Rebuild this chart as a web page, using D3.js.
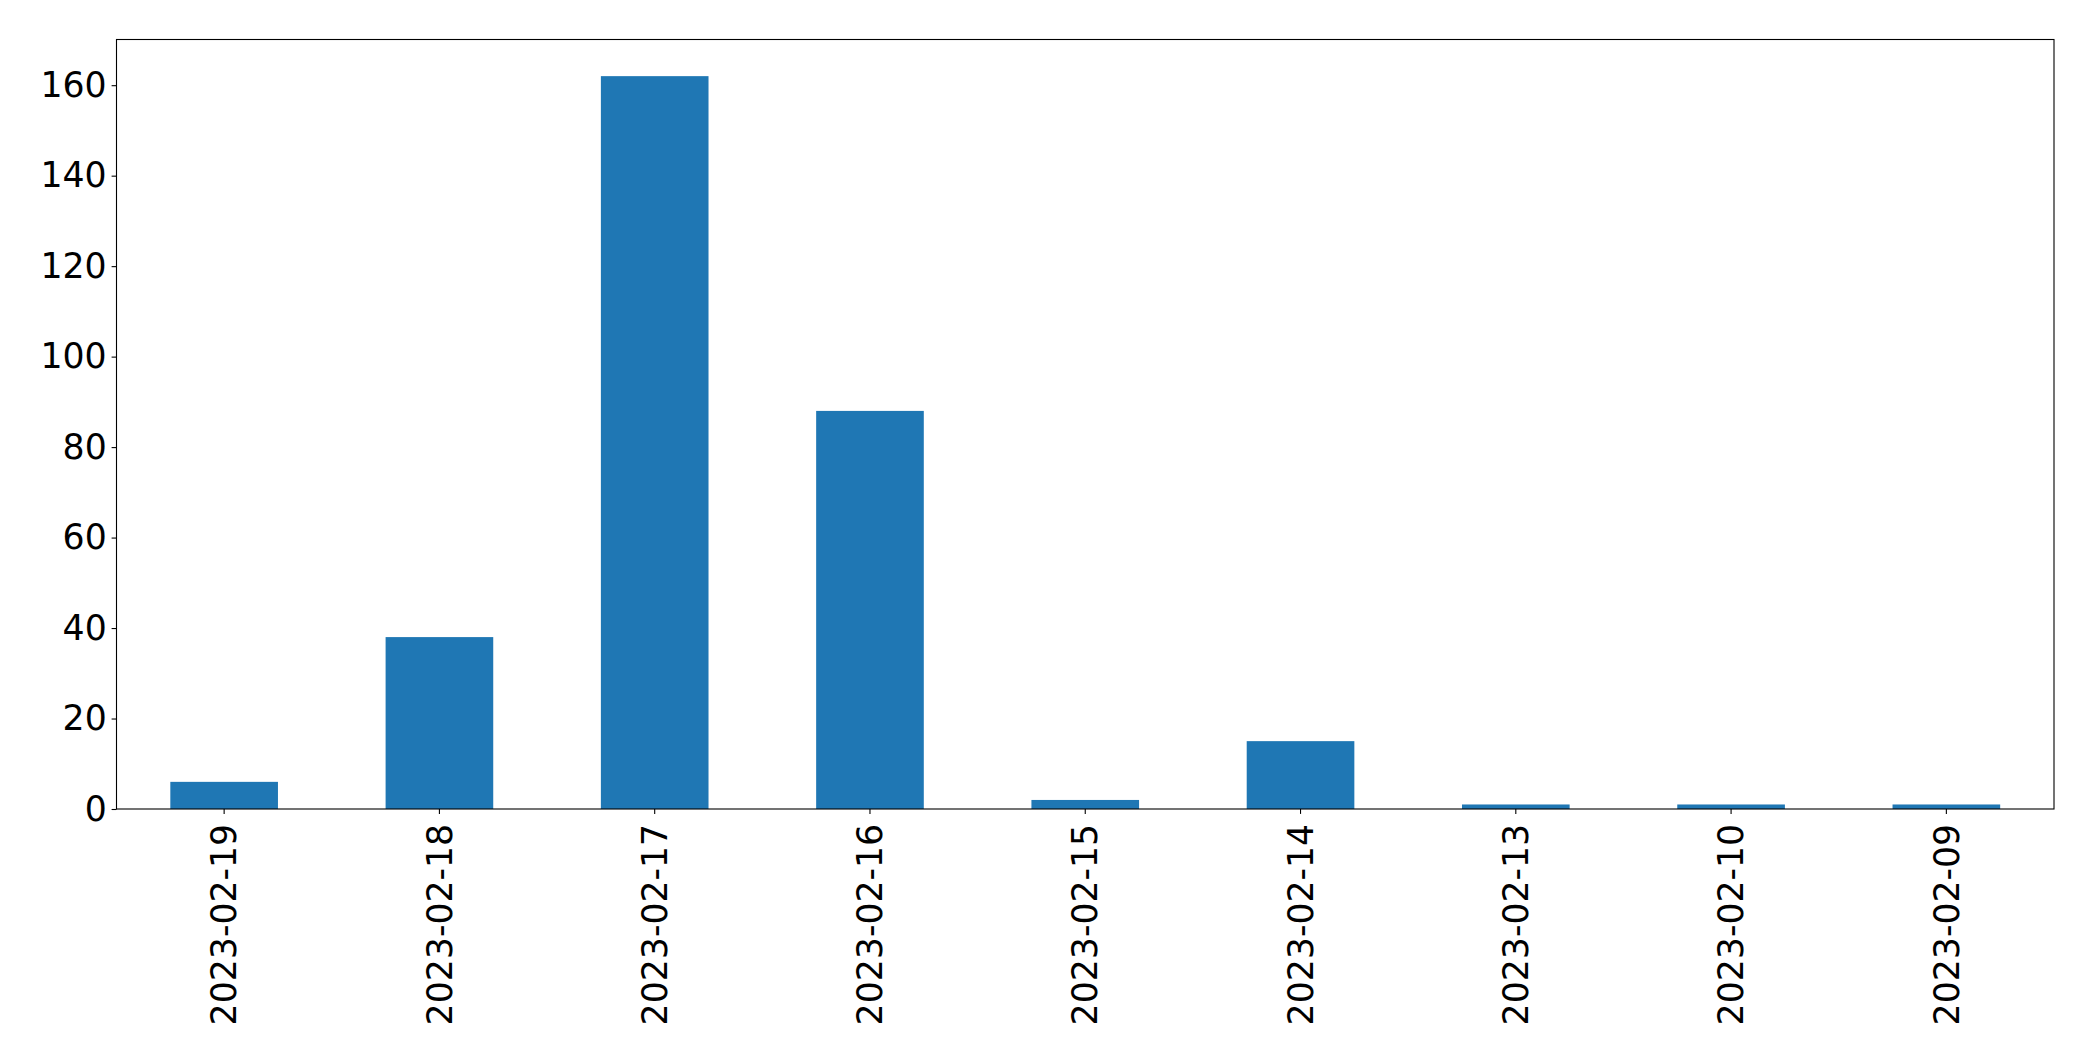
<!DOCTYPE html>
<html><head><meta charset="utf-8">
<script src="https://cdn.jsdelivr.net/npm/d3@7"></script>
<style>body{margin:0;background:#fff}svg{display:block}</style>
</head><body>
<script>
const categories = ["2023-02-19","2023-02-18","2023-02-17","2023-02-16","2023-02-15","2023-02-14","2023-02-13","2023-02-10","2023-02-09"];
const values = [6, 38, 162, 88, 2, 15, 1, 1, 1];
const yTicks = [0, 20, 40, 60, 80, 100, 120, 140, 160];

const W = 2093, H = 1061;
const m = {left: 116.5, right: 2093 - 2054, top: 39.5, bottom: 1061 - 809};
const svg = d3.select("body").append("svg").attr("width", W).attr("height", H);
const x = d3.scaleBand().domain(categories).range([m.left, W - m.right]).paddingInner(0.5).paddingOuter(0.25);
const y = d3.scaleLinear().domain([0, 162 * 1.05]).range([H - m.bottom, m.top]);

svg.append("g").selectAll("rect").data(values).join("rect")
  .attr("x", (d, i) => x(categories[i]))
  .attr("width", x.bandwidth())
  .attr("y", d => y(d))
  .attr("height", d => y(0) - y(d))
  .attr("fill", "#1f77b4");

const font = "'DejaVu Sans', sans-serif";
const yAxis = svg.append("g").attr("transform", `translate(${m.left},0)`)
  .call(d3.axisLeft(y).tickValues(yTicks).tickSize(4.9).tickPadding(4.9).tickFormat(d3.format("d")));
yAxis.select(".domain").remove();
yAxis.selectAll("line").attr("stroke", "#000").attr("stroke-width", 1.1);
yAxis.selectAll("text").attr("font-family", font).attr("font-size", 34.7).attr("fill", "#000");

const xAxis = svg.append("g").attr("transform", `translate(0,${H - m.bottom})`)
  .call(d3.axisBottom(x).tickSize(4.9).tickPadding(4.9));
xAxis.select(".domain").remove();
xAxis.selectAll("line").attr("stroke", "#000").attr("stroke-width", 1.1);
xAxis.selectAll("text").attr("font-family", font).attr("font-size", 34.7).attr("fill", "#000")
  .attr("transform", "translate(0,14.8) rotate(-90)")
  .attr("x", 0).attr("y", 0).attr("dy", "0.35em")
  .attr("text-anchor", "end");

svg.append("rect").attr("x", m.left).attr("y", m.top)
  .attr("width", W - m.right - m.left).attr("height", H - m.bottom - m.top)
  .attr("fill", "none").attr("stroke", "#000").attr("stroke-width", 1.1);
</script>
</body></html>
